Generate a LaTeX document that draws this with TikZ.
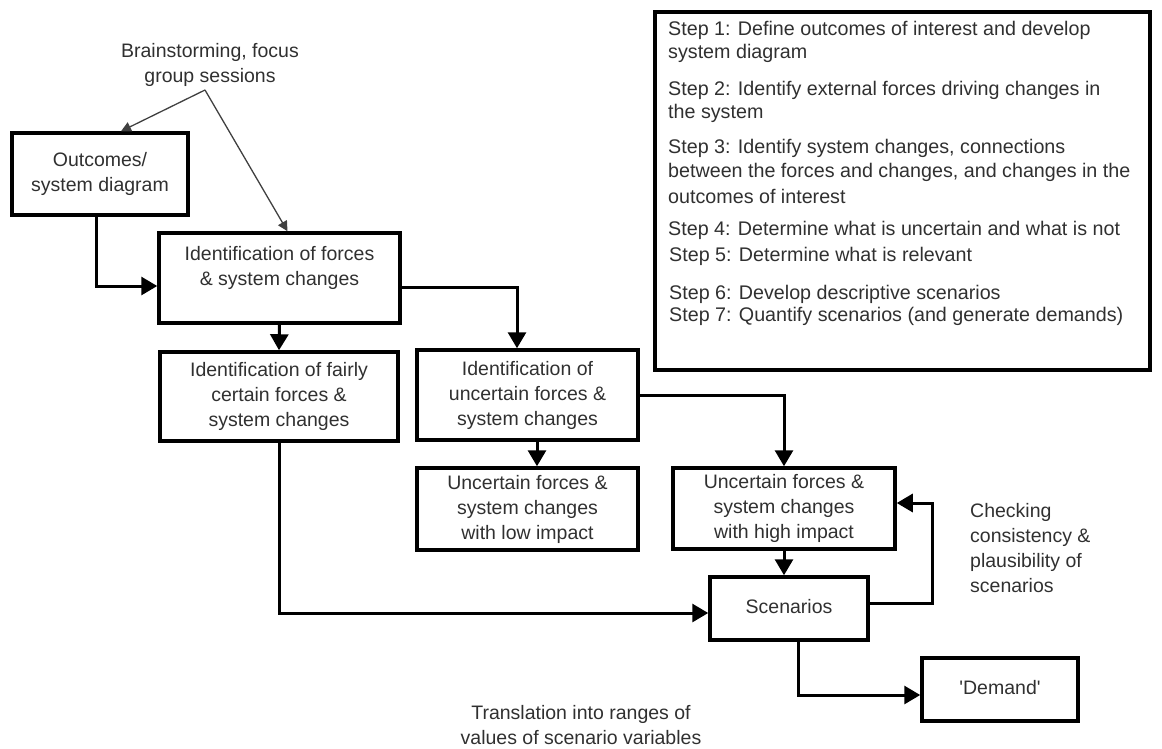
\documentclass[tikz,border=0pt]{standalone}
\usepackage{fontspec}
\setmainfont{Liberation Sans}
\usetikzlibrary{arrows.meta}
\definecolor{txt}{HTML}{303030}
\tikzset{
  box/.style={draw=black, line width=3.5pt, align=center, text=txt, inner sep=0pt,
    font=\fontsize{19.5}{25}\selectfont},
  conn/.style={line width=3pt, -{Triangle[length=16pt,width=18pt]}},
  thin/.style={line width=1.3pt, draw=black!75, -{Triangle[length=10pt,width=10pt]}},
  lbl/.style={text=txt, align=center, inner sep=0pt, font=\fontsize{19.5}{25}\selectfont},
  stepline/.style={text=txt, anchor=west, inner sep=0pt, font=\fontsize{19.7}{23}\selectfont}
}
\begin{document}
\begin{tikzpicture}[x=1pt,y=-1pt]
\useasboundingbox (0,0) rectangle (1162,748);
% brainstorming
\node[lbl] (brain) at (210,65) {Brainstorming, focus\\group sessions};
\coordinate (apex) at (205,90);
% boxes
\node[box, minimum width=176pt, minimum height=82pt] (outc) at (100,174) {Outcomes/\\system diagram};
\node[box, minimum width=241pt, minimum height=90pt] (forces) at (279.5,278) {Identification of forces\\\& system changes\\\mbox{}};
\node[box, minimum width=238pt, minimum height=89pt] (fair) at (279,396.5) {Identification of fairly\\certain forces \&\\system changes};
\node[box, minimum width=221pt, minimum height=90pt] (unc) at (527.5,395) {Identification of\\uncertain forces \&\\system changes};
\node[box, minimum width=221pt, minimum height=82pt] (low) at (527.5,509) {Uncertain forces \&\\system changes\\with low impact};
\node[box, minimum width=222pt, minimum height=81pt] (high) at (784,508.5) {Uncertain forces \&\\system changes\\with high impact};
\node[box, minimum width=158pt, minimum height=63pt] (scen) at (789,608.5) {\raisebox{5pt}{Scenarios}};
\node[box, minimum width=156pt, minimum height=63pt] (dem) at (1000,689.5) {\raisebox{4pt}{\textquotesingle Demand\textquotesingle}};
% steps box
\node[draw=black, line width=3.5pt, minimum width=495pt, minimum height=358pt, inner sep=0pt] (steps) at (902.5,191) {};
\node[stepline] (s1a) at (668,30) {Step 1: Define outcomes of interest and develop};
\node[stepline] (s1b) at (668,53) {system diagram};
\node[stepline] (s2a) at (668,90) {Step 2: Identify external forces driving changes in};
\node[stepline] (s2b) at (668,113) {the system};
\node[stepline] (s3a) at (668,148) {Step 3: Identify system changes, connections};
\node[stepline] (s3b) at (668,172) {between the forces and changes, and changes in the};
\node[stepline] (s3c) at (668,196) {outcomes of interest};
\node[stepline] (s4) at (668,230) {Step 4: Determine what is uncertain and what is not};
\node[stepline] (s5) at (669,256) {Step 5: Determine what is relevant};
\node[stepline] (s6) at (669,294) {Step 6: Develop descriptive scenarios};
\node[stepline] (s7) at (669,316) {Step 7: Quantify scenarios (and generate demands)};
% other labels
\node[lbl, align=left, anchor=north west] (check) at (970,503) {Checking\\consistency \&\\plausibility of\\scenarios};
\node[lbl] (transl) at (581,725) {Translation into ranges of\\values of scenario variables};
% connectors
\draw[thin] (apex) -- ([xshift=21pt]outc.north);
\draw[thin] (apex) -- ([xshift=8pt]forces.north);
\draw[conn] ([xshift=-4pt]outc.south) |- ([yshift=-8pt]forces.west);
\draw[conn] ([yshift=-9pt]forces.east) -| ([xshift=-10.5pt]unc.north);
\draw[conn] (forces.south) -- (fair.north);
\draw[conn] ([xshift=9.5pt]unc.south) -- ([xshift=9.5pt]low.north);
\draw[conn] (unc.east) -| (high.north);
\draw[conn] (high.south) -- ([xshift=-5pt]scen.north);
\draw[conn] (fair.south) |- ([yshift=-4.5pt]scen.west);
\coordinate (fb) at (932,503);
\draw[conn] ([yshift=5.5pt]scen.east) -| (fb) -- ([yshift=5.5pt]high.east);
\draw[conn] ([xshift=9pt]scen.south) |- ([yshift=-5.5pt]dem.west);
\end{tikzpicture}
\end{document}
